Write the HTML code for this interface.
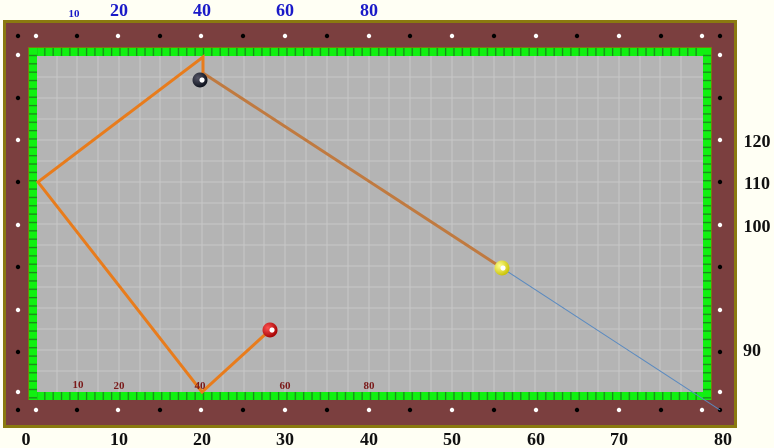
<!DOCTYPE html>
<html><head><meta charset="utf-8"><style>
html,body{margin:0;padding:0;background:#fffff4;}
svg{display:block;}
text{font-family:"Liberation Serif",serif;font-weight:bold;}
</style></head><body>
<svg width="774" height="448" viewBox="0 0 774 448" xmlns="http://www.w3.org/2000/svg">
<defs>
<pattern id="gh" x="28" y="0" width="8.35" height="10" patternUnits="userSpaceOnUse">
<rect width="8.35" height="10" fill="#1a8a1a"/><rect x="0.8" y="0" width="7" height="10" fill="#11f011"/>
</pattern>
<pattern id="gv" x="0" y="47" width="10" height="8.35" patternUnits="userSpaceOnUse">
<rect width="10" height="8.35" fill="#1a8a1a"/><rect x="0" y="0.8" width="10" height="7" fill="#11f011"/>
</pattern>
<radialGradient id="bk" cx="0.35" cy="0.35" r="0.7"><stop offset="0" stop-color="#556"/><stop offset="1" stop-color="#0a0f1a"/></radialGradient>
<radialGradient id="rd" cx="0.35" cy="0.35" r="0.7"><stop offset="0" stop-color="#ff5050"/><stop offset="1" stop-color="#a00000"/></radialGradient>
<radialGradient id="yl" cx="0.35" cy="0.35" r="0.7"><stop offset="0" stop-color="#ffff90"/><stop offset="1" stop-color="#c8c000"/></radialGradient>
</defs>
<rect width="774" height="448" fill="#fffff4"/>
<rect x="3" y="20" width="734" height="408" fill="#8a7a10"/>
<rect x="6" y="23" width="728" height="402" fill="#7b3f3f"/>
<rect x="28" y="47" width="684" height="353" fill="#7a7a10"/>
<rect x="29" y="48" width="682" height="8" fill="url(#gh)"/>
<rect x="29" y="392" width="682" height="8" fill="url(#gh)"/>
<rect x="29" y="48" width="8" height="352" fill="url(#gv)"/>
<rect x="703" y="48" width="8" height="352" fill="url(#gv)"/>
<rect x="37" y="56" width="666" height="336" fill="#b4b4b4"/>
<g stroke="#c8c8c8" stroke-width="1">
<path d="M57 56V392M77 56V392M98 56V392M119 56V392M140 56V392M160 56V392M181 56V392M202 56V392M223 56V392M244 56V392M264 56V392M285 56V392M306 56V392M327 56V392M348 56V392M369 56V392M389 56V392M410 56V392M431 56V392M452 56V392M473 56V392M494 56V392M514 56V392M535 56V392M556 56V392M577 56V392M598 56V392M619 56V392M640 56V392M660 56V392M681 56V392"/>
<path d="M37 77H703M37 98H703M37 119H703M37 140H703M37 161H703M37 182H703M37 203H703M37 224H703M37 245H703M37 266H703M37 287H703M37 308H703M37 329H703M37 350H703M37 371H703"/>
</g>
<g>
<circle cx="18" cy="36" r="2.2" fill="#000"/>
<circle cx="36" cy="36" r="2.2" fill="#fff"/><circle cx="77" cy="36" r="2.2" fill="#000"/><circle cx="118" cy="36" r="2.2" fill="#fff"/><circle cx="160" cy="36" r="2.2" fill="#000"/><circle cx="201" cy="36" r="2.2" fill="#fff"/><circle cx="243" cy="36" r="2.2" fill="#000"/><circle cx="285" cy="36" r="2.2" fill="#fff"/><circle cx="327" cy="36" r="2.2" fill="#000"/><circle cx="369" cy="36" r="2.2" fill="#fff"/><circle cx="410" cy="36" r="2.2" fill="#000"/><circle cx="452" cy="36" r="2.2" fill="#fff"/><circle cx="494" cy="36" r="2.2" fill="#000"/><circle cx="536" cy="36" r="2.2" fill="#fff"/><circle cx="577" cy="36" r="2.2" fill="#000"/><circle cx="619" cy="36" r="2.2" fill="#fff"/><circle cx="661" cy="36" r="2.2" fill="#000"/><circle cx="702" cy="36" r="2.2" fill="#fff"/><circle cx="720" cy="36" r="2.2" fill="#000"/>
<circle cx="18" cy="410" r="2.2" fill="#000"/>
<circle cx="36" cy="410" r="2.2" fill="#fff"/><circle cx="77" cy="410" r="2.2" fill="#000"/><circle cx="118" cy="410" r="2.2" fill="#fff"/><circle cx="160" cy="410" r="2.2" fill="#000"/><circle cx="201" cy="410" r="2.2" fill="#fff"/><circle cx="243" cy="410" r="2.2" fill="#000"/><circle cx="285" cy="410" r="2.2" fill="#fff"/><circle cx="327" cy="410" r="2.2" fill="#000"/><circle cx="369" cy="410" r="2.2" fill="#fff"/><circle cx="410" cy="410" r="2.2" fill="#000"/><circle cx="452" cy="410" r="2.2" fill="#fff"/><circle cx="494" cy="410" r="2.2" fill="#000"/><circle cx="536" cy="410" r="2.2" fill="#fff"/><circle cx="577" cy="410" r="2.2" fill="#000"/><circle cx="619" cy="410" r="2.2" fill="#fff"/><circle cx="661" cy="410" r="2.2" fill="#000"/><circle cx="702" cy="410" r="2.2" fill="#fff"/><circle cx="720" cy="410" r="2.2" fill="#000"/>
<circle cx="18" cy="55" r="2.2" fill="#fff"/><circle cx="18" cy="98" r="2.2" fill="#000"/><circle cx="18" cy="140" r="2.2" fill="#fff"/><circle cx="18" cy="182" r="2.2" fill="#000"/><circle cx="18" cy="225" r="2.2" fill="#fff"/><circle cx="18" cy="267" r="2.2" fill="#000"/><circle cx="18" cy="310" r="2.2" fill="#fff"/><circle cx="18" cy="352" r="2.2" fill="#000"/><circle cx="18" cy="392" r="2.2" fill="#fff"/>
<circle cx="720" cy="55" r="2.2" fill="#fff"/><circle cx="720" cy="98" r="2.2" fill="#000"/><circle cx="720" cy="140" r="2.2" fill="#fff"/><circle cx="720" cy="182" r="2.2" fill="#000"/><circle cx="720" cy="225" r="2.2" fill="#fff"/><circle cx="720" cy="267" r="2.2" fill="#000"/><circle cx="720" cy="310" r="2.2" fill="#fff"/><circle cx="720" cy="352" r="2.2" fill="#000"/><circle cx="720" cy="392" r="2.2" fill="#fff"/>
</g>
<line x1="502" y1="268" x2="720" y2="410" stroke="#5a8ac0" stroke-width="1"/>
<polyline points="270,330 202,392 38,182 203,57 203,73" fill="none" stroke="#e87c1c" stroke-width="3"/>
<line x1="203" y1="73" x2="502" y2="268" stroke="#c07a40" stroke-width="3"/>
<circle cx="200" cy="80" r="7.5" fill="url(#bk)"/><circle cx="202" cy="80" r="2.6" fill="#fff"/>
<circle cx="270" cy="330" r="7.5" fill="url(#rd)"/><circle cx="272" cy="330" r="2.6" fill="#fff"/>
<circle cx="502" cy="268" r="7.5" fill="url(#yl)"/><circle cx="503" cy="268" r="2.6" fill="#fff"/>
<g fill="#1a1ac8" text-anchor="middle">
<text x="74" y="17" font-size="11">10</text>
<text x="119" y="16" font-size="18">20</text>
<text x="202" y="16" font-size="18">40</text>
<text x="285" y="16" font-size="18">60</text>
<text x="369" y="16" font-size="18">80</text>
</g>
<g fill="#111" font-size="18" text-anchor="middle">
<text x="757" y="147">120</text><text x="757" y="189">110</text><text x="757" y="232">100</text><text x="752" y="356">90</text>
<text x="26" y="445">0</text><text x="119" y="445">10</text><text x="202" y="445">20</text><text x="285" y="445">30</text><text x="369" y="445">40</text><text x="452" y="445">50</text><text x="536" y="445">60</text><text x="619" y="445">70</text><text x="723" y="445">80</text>
</g>
<g fill="#7a1a1a" font-size="11" text-anchor="middle">
<text x="78" y="388">10</text><text x="119" y="389">20</text><text x="200" y="389">40</text><text x="285" y="389">60</text><text x="369" y="389">80</text>
</g>
</svg>
</body></html>
